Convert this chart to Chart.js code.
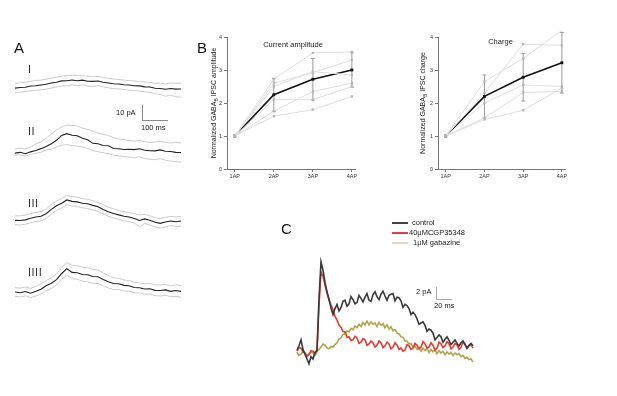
<!DOCTYPE html>
<html>
<head>
<meta charset="utf-8">
<script src="https://cdn.jsdelivr.net/npm/chart.js@4/dist/chart.umd.min.js"></script>
<style>
  body { margin: 0; background: #fff; font-family: "Liberation Sans", Arial, sans-serif; }
  #fig { position: relative; width: 617px; height: 396px; overflow: hidden; }
  canvas, .txt, .bar { position: absolute; }
  .txt { color: #222; white-space: nowrap; line-height: 1; will-change: transform; }
  .letter { font-size: 15px; color: #111; }
  .roman { font-size: 11px; color: #333; letter-spacing: 0.5px; }
  .small { font-size: 7.5px; color: #222; }
  .bar { background: #888; }
</style>
</head>
<body>
<div id="fig">
  <div class="txt letter" style="left:14px;top:40px;">A</div>
  <div class="txt letter" style="left:197px;top:40px;">B</div>
  <div class="txt letter" style="left:281px;top:221px;">C</div>

  <div class="txt roman" style="left:28px;top:64px;">I</div>
  <div class="txt roman" style="left:28px;top:126px;">II</div>
  <div class="txt roman" style="left:28px;top:198px;">III</div>
  <div class="txt roman" style="left:28px;top:267px;">IIII</div>

  <canvas id="trI" width="166" height="45" style="left:15px;top:56px;"></canvas>
  <canvas id="trII" width="166" height="45" style="left:15px;top:121px;"></canvas>
  <canvas id="trIII" width="166" height="45" style="left:15px;top:189px;"></canvas>
  <canvas id="trIIII" width="166" height="45" style="left:15px;top:260px;"></canvas>

  <!-- scale bar A -->
  <div class="bar" style="left:142px;top:105px;width:1px;height:15px;"></div>
  <div class="bar" style="left:142px;top:120px;width:26px;height:1px;"></div>
  <div class="txt small" style="left:116px;top:109px;">10 pA</div>
  <div class="txt small" style="left:141px;top:124px;">100 ms</div>

  <canvas id="ampChart" width="172" height="150" style="left:190px;top:30px;"></canvas>
  <canvas id="chgChart" width="172" height="150" style="left:400px;top:30px;"></canvas>

  <!-- legend C -->
  <div class="bar" style="left:392px;top:222px;width:16px;height:1.5px;background:#444;"></div>
  <div class="bar" style="left:392px;top:232px;width:16px;height:1.5px;background:#e04040;"></div>
  <div class="bar" style="left:392px;top:242px;width:16px;height:1.5px;background:#e6d6c0;"></div>
  <div class="txt small" style="left:412px;top:219px;">control</div>
  <div class="txt small" style="left:409px;top:229px;">40&mu;MCGP35348</div>
  <div class="txt small" style="left:413px;top:239px;">1&mu;M gabazine</div>

  <!-- scale bar C -->
  <div class="bar" style="left:436px;top:287px;width:1px;height:12px;background:#aaa;"></div>
  <div class="bar" style="left:436px;top:299px;width:16px;height:1px;background:#aaa;"></div>
  <div class="txt small" style="left:416px;top:288px;">2 pA</div>
  <div class="txt small" style="left:434px;top:302px;">20 ms</div>

  <canvas id="cChart" width="184" height="120" style="left:293px;top:251px;"></canvas>
</div>

<script>
// ---------- Panel B data ----------
const apLabels = ['1AP', '2AP', '3AP', '4AP'];

const ampCells = [
    [1, 2.72, 3.52, 3.55],
    [1, 2.60, 2.92, 3.30],
    [1, 2.50, 2.95, 2.85],
    [1, 2.10, 2.10, 2.50],
    [1, 1.75, 2.35, 2.60],
    [1, 1.60, 1.80, 2.20]
];
const ampMean = [1, 2.25, 2.72, 3.0];
const ampErr = [0, 0.5, 0.63, 0.52];

const chgCells = [
    [1, 2.65, 3.35, 4.20],
    [1, 2.30, 3.78, 3.75],
    [1, 2.00, 2.55, 2.50],
    [1, 1.55, 2.32, 2.35],
    [1, 1.50, 1.78, 2.45]
];
const chgMean = [1, 2.2, 2.78, 3.22];
const chgErr = [0, 0.65, 0.72, 0.92];

// ---------- Panel A data (pA, sampled every 20 ms) ----------
const timeA = [0, 20, 40, 60, 80, 100, 120, 140, 160, 180, 200, 220, 240, 260, 280, 300, 320,
    340, 360, 380, 400, 420, 440, 460, 480, 500, 520, 540, 560, 580, 600, 620, 640];

const trIMean = [0, 0.4, 0.6, 1.3, 1.5, 2.0, 2.4, 3.2, 3.7, 4.5, 4.6, 5.1, 4.6, 5.0, 4.3, 4.2, 4.4,
    3.7, 3.2, 2.7, 2.6, 2.1, 2.0, 1.5, 1.4, 0.8, 0.7, -0.1, -0.2, -0.7, -0.2, -0.6, -0.5];
const trIUp = [3.0, 3.3, 3.8, 4.2, 4.8, 5.0, 5.6, 6.1, 6.8, 7.4, 7.8, 8.0, 7.9, 7.7, 7.5, 7.0, 7.3,
    6.6, 6.1, 5.6, 5.4, 5.0, 4.7, 4.5, 4.1, 3.9, 3.6, 3.0, 3.1, 2.6, 3.2, 3.0, 3.2];
const trILo = [-2.8, -2.5, -2.2, -1.6, -1.5, -1.0, -0.6, 0.1, 0.6, 1.4, 1.5, 2.0, 1.6, 2.0, 1.3, 1.1, 1.5,
    0.8, 0.2, -0.3, -0.4, -0.9, -1.3, -1.5, -1.8, -2.3, -2.6, -3.4, -3.9, -5.0, -4.4, -5.4, -5.6];

const trIIMean = [0, 0.5, -0.4, 0.8, 1.7, 2.8, 4.2, 5.9, 8.0, 11.0, 12.1, 11.1, 10.8, 9.2, 8.3, 6.1, 5.8,
    4.8, 4.6, 2.9, 2.7, 2.3, 2.4, 2.2, 2.7, 1.8, 1.5, 1.4, 2.0, 1.2, 1.0, 0.5, 0.4];
const trIIUp = [2.5, 3.0, 2.6, 3.8, 5.6, 7.0, 9.4, 11.9, 14.4, 16.3, 17.5, 17.2, 16.9, 15.6, 14.7, 13.8, 12.5,
    11.6, 11.0, 9.7, 8.8, 8.4, 7.8, 7.5, 7.9, 7.2, 6.6, 6.9, 7.5, 6.6, 6.3, 6.9, 6.3];
const trIILo = [-1.3, -1.0, -1.9, -0.9, 0.0, 0.6, 1.9, 2.5, 3.8, 5.0, 5.3, 4.7, 4.4, 3.8, 2.9, 1.6, 0.9,
    0.3, -0.3, -1.3, -1.6, -2.2, -2.5, -2.8, -2.2, -3.4, -3.8, -4.1, -3.4, -4.4, -5.0, -5.3, -5.6];

const trIIIMean = [0.5, 0.4, 0.8, 1.8, 2.6, 3.0, 4.6, 7.3, 9.6, 11.1, 13.2, 12.3, 12.0, 11.1, 10.8, 9.8, 8.9,
    7.3, 5.8, 4.8, 3.9, 3.0, 2.6, 1.7, 0.4, 1.4, 0.5, -0.7, -1.4, -0.5, 0.1, -0.4, 0.1];
const trIIIUp = [3.3, 3.3, 3.7, 4.7, 5.4, 6.0, 7.5, 10.3, 12.5, 14.1, 16.0, 15.2, 14.9, 14.0, 13.6, 12.7, 11.7,
    10.2, 8.6, 7.7, 6.7, 5.9, 5.4, 4.6, 3.9, 4.2, 3.4, 2.2, 1.6, 2.4, 3.0, 2.6, 2.9];
const trIIILo = [-2.2, -2.4, -2.0, -1.0, -0.2, 0.1, 1.7, 4.4, 6.6, 8.2, 10.3, 9.5, 9.1, 8.3, 7.9, 6.9, 6.0,
    4.5, 3.0, 2.0, 1.0, 0.2, -0.3, -1.2, -3.5, -1.4, -2.4, -3.6, -4.3, -3.5, -2.8, -3.3, -3.0];

const trIIIIMean = [0.1, -0.4, 0.4, -0.7, 0.5, 1.8, 4.0, 5.5, 7.8, 11.6, 14.6, 12.3, 12.1, 11.0, 10.8, 9.7, 9.6,
    7.9, 6.5, 5.4, 5.2, 4.2, 4.0, 2.9, 2.7, 2.0, 2.1, 1.1, 1.0, 1.4, 0.5, 1.0, 0.5];
const trIIIIUp = [2.8, 2.5, 3.2, 2.4, 3.5, 5.0, 7.2, 8.9, 11.3, 15.3, 18.4, 16.6, 16.4, 15.5, 15.2, 14.1, 13.8,
    11.9, 10.3, 9.0, 8.6, 7.5, 7.2, 6.1, 5.8, 5.2, 5.4, 4.4, 4.5, 4.8, 3.9, 4.6, 4.1];
const trIIIILo = [-2.6, -3.0, -2.3, -3.4, -2.4, -1.2, 0.9, 2.3, 4.4, 8.0, 10.6, 8.4, 8.0, 6.9, 6.4, 5.5, 5.3,
    3.8, 2.6, 1.6, 1.6, 0.7, 0.6, -0.4, -0.5, -1.2, -1.3, -2.2, -2.4, -2.0, -2.9, -2.7, -3.1];

// ---------- Panel C data (pA, sampled every 2.5 ms) ----------
const timeC = [0, 2.5, 5, 7.5, 10, 12.5, 15, 17.5, 20, 22.5, 25, 27.5, 30, 32.5, 35, 37.5, 40, 42.5,
    45, 47.5, 50, 52.5, 55, 57.5, 60, 62.5, 65, 67.5, 70, 72.5, 75, 77.5, 80, 82.5, 85, 87.5, 90,
    92.5, 95, 97.5, 100, 102.5, 105, 107.5, 110, 112.5, 115, 117.5, 120, 122.5, 125, 127.5, 130,
    132.5, 135, 137.5, 140, 142.5, 145, 147.5, 150, 152.5, 155, 157.5, 160, 162.5, 165, 167.5, 170,
    172.5, 175, 177.5, 180, 182.5, 185, 187.5, 190, 192.5, 195, 197.5, 200, 202.5, 205, 207.5, 210,
    212.5, 215, 217.5, 220];
const controlTrace = [0.5, 1.2, 2.2, 0.6, -0.2, -1.0, -1.8, -0.6, -1.0, 0.1,
    0.4, 9.0, 15.2, 13.8, 11.8, 10.2, 9.0, 7.5, 6.4, 7.4,
    8.1, 7.0, 7.6, 8.6, 8.8, 7.8, 8.2, 9.4, 8.9, 8.2,
    8.4, 9.6, 9.1, 8.5, 9.3, 9.9, 8.8, 8.6, 9.7, 10.2,
    9.4, 8.9, 9.8, 10.3, 9.5, 8.8, 9.6, 9.8, 9.9, 8.7,
    9.3, 9.2, 8.7, 7.6, 8.1, 7.9, 7.4, 6.4, 6.8, 6.4,
    5.7, 4.8, 5.0, 5.2, 4.6, 3.6, 4.0, 3.8, 3.3, 2.2,
    2.6, 3.0, 2.7, 1.8, 2.3, 2.7, 2.1, 1.4, 1.8, 2.2,
    1.6, 1.2, 1.7, 2.0, 1.4, 0.8, 1.3, 1.6, 1.2];
const cgpTrace = [0.3, 0.9, 0.8, 0.2, 0, -0.5, -0.2, 0.4, 0.3, -0.1,
    0.5, 8.0, 13.5, 12.8, 11.3, 10.0, 8.8, 8.0, 7.2, 6.1,
    5.5, 4.6, 4.3, 3.6, 3.5, 2.6, 2.7, 2.1, 2.2, 2.8,
    2.5, 1.6, 1.8, 2.4, 2.2, 1.3, 1.5, 2.0, 1.7, 1.0,
    1.3, 2.0, 1.7, 0.9, 1.2, 1.8, 1.5, 0.7, 1.0, 1.7,
    1.3, 0.6, 0.8, 0.3, 0.5, 1.4, 1.2, 0.6, 0.8, 1.6,
    1.3, 0.7, 1.0, 1.9, 1.5, 0.8, 1.0, 1.7, 1.3, 0.5,
    0.8, 1.8, 1.5, 0.9, 1.2, 1.9, 1.5, 0.7, 1.0, 1.6,
    1.3, 0.6, 1.0, 1.9, 1.5, 0.8, 1.2, 1.4, 0.8];
const gabazineTrace = [0.2, -0.4, -0.2, 0.3, 0, -0.6, -0.3, 0.2, 0, -0.4,
    0.2, 0.6, 1.0, 1.5, 1.3, 0.9, 0.7, 1.1, 1.0, 1.4,
    1.7, 2.3, 2.5, 3.1, 3.2, 3.7, 3.5, 4.1, 3.9, 4.5,
    4.2, 4.8, 4.4, 5.1, 4.7, 5.3, 4.7, 5.2, 4.8, 5.0,
    4.4, 5.1, 4.6, 4.9, 4.2, 4.7, 4.0, 4.4, 3.7, 3.9,
    3.3, 3.2, 2.7, 2.6, 2.0, 2.0, 1.5, 1.6, 1.0, 1.1,
    0.6, 0.9, 0.3, 0.8, 0.4, 0.7, 0.1, 0.6, 0.2, 0.5,
    -0.1, 0.4, 0, 0.3, -0.3, 0.2, -0.2, 0.1, -0.4, 0,
    -0.3, -0.1, -0.6, -0.4, -0.9, -0.7, -1.1, -1.0, -1.5];

const FONT = '"Liberation Sans", Arial, sans-serif';
Chart.defaults.font.family = FONT;
Chart.defaults.animation = false;

function xy(xs, ys) {
    return ys.map((v, i) => ({ x: xs[i], y: v }));
}

// error bars + inner title + y title with subscript
const panelBPlugin = {
    id: 'panelB',
    beforeDatasetsDraw(chart, args, opts) {
        const ctx = chart.ctx;
        const xs = chart.scales.x, ys = chart.scales.y;
        ctx.save();
        ctx.strokeStyle = '#9a9a9a';
        ctx.lineWidth = 1;
        opts.mean.forEach((m, i) => {
            if (!opts.err[i]) return;
            const x = xs.getPixelForValue(i + 1);
            const y1 = ys.getPixelForValue(m + opts.err[i]);
            const y2 = ys.getPixelForValue(m - opts.err[i]);
            ctx.beginPath();
            ctx.moveTo(x, y1); ctx.lineTo(x, y2);
            ctx.moveTo(x - 2, y1); ctx.lineTo(x + 2, y1);
            ctx.moveTo(x - 2, y2); ctx.lineTo(x + 2, y2);
            ctx.stroke();
        });
        ctx.restore();
    },
    afterDraw(chart, args, opts) {
        const ctx = chart.ctx;
        const a = chart.chartArea;
        ctx.save();
        ctx.fillStyle = '#222';
        ctx.font = '7.5px ' + FONT;
        ctx.textAlign = 'center';
        ctx.textBaseline = 'middle';
        ctx.fillText(opts.title, (a.left + a.right) / 2 + opts.titleDx, a.top + opts.titleDy);

        // rotated y title: "Normalized GABA" + sub "B" + rest
        ctx.translate(opts.yTitleX, (a.top + a.bottom) / 2);
        ctx.rotate(-Math.PI / 2);
        const p1 = 'Normalized GABA', p3 = ' IPSC ' + opts.yWord;
        ctx.font = '7px ' + FONT;
        const w1 = ctx.measureText(p1).width, w3 = ctx.measureText(p3).width;
        ctx.font = '5px ' + FONT;
        const w2 = ctx.measureText('B').width;
        let x = -(w1 + w2 + w3) / 2;
        ctx.textAlign = 'left';
        ctx.font = '7px ' + FONT;
        ctx.fillText(p1, x, 0);
        x += w1;
        ctx.font = '5px ' + FONT;
        ctx.fillText('B', x, 2.5);
        x += w2;
        ctx.font = '7px ' + FONT;
        ctx.fillText(p3, x, 0);
        ctx.restore();
    }
};

function makePanelB(id, cells, mean, err, opts) {
    const datasets = cells.map(c => ({
        data: xy([1, 2, 3, 4], c),
        borderColor: '#dedede',
        borderWidth: 1,
        pointStyle: 'rect',
        pointRadius: 1.6,
        pointBackgroundColor: '#b4b4b4',
        pointBorderColor: '#b4b4b4',
        pointBorderWidth: 0,
        clip: false
    }));
    datasets.push({
        data: xy([1, 2, 3, 4], mean),
        borderColor: '#111',
        borderWidth: 1.6,
        pointStyle: 'rect',
        pointRadius: 2,
        pointBackgroundColor: '#111',
        pointBorderColor: '#111',
        pointBorderWidth: 0,
        clip: false
    });

    new Chart(document.getElementById(id), {
        type: 'line',
        data: { datasets },
        plugins: [panelBPlugin],
        options: {
            responsive: false,
            layout: { padding: { top: 7, right: 7, left: 0, bottom: 0 } },
            plugins: {
                legend: { display: false },
                tooltip: { enabled: false },
                panelB: Object.assign({ mean, err }, opts)
            },
            scales: {
                x: {
                    type: 'linear',
                    min: 0.8,
                    max: 4.08,
                    afterBuildTicks: s => { s.ticks = [1, 2, 3, 4].map(v => ({ value: v })); },
                    afterFit: s => { s.height = 11; },
                    ticks: {
                        callback: v => apLabels[v - 1],
                        font: { size: 5.5 },
                        color: '#333',
                        padding: 1,
                        maxRotation: 0
                    },
                    grid: { drawOnChartArea: false, tickLength: 3, color: '#777' },
                    border: { color: '#777' }
                },
                y: {
                    min: 0,
                    max: 4,
                    afterFit: s => { s.width = opts.yWidth; },
                    ticks: { stepSize: 1, font: { size: 5.5 }, color: '#333', padding: 2 },
                    grid: { drawOnChartArea: false, tickLength: 3, color: '#777' },
                    border: { color: '#777' }
                }
            }
        }
    });
}

makePanelB('ampChart', ampCells, ampMean, ampErr,
    { title: 'Current amplitude', titleDx: 2, titleDy: 8, yWord: 'amplitude', yTitleX: 24, yWidth: 37 });
makePanelB('chgChart', chgCells, chgMean, chgErr,
    { title: 'Charge', titleDx: -1, titleDy: 5, yWord: 'charge', yTitleX: 23, yWidth: 38 });

// ---------- Panel A traces ----------
function makeTrace(id, mean, up, lo) {
    const grey = { borderColor: '#cbcbcb', borderWidth: 1, pointRadius: 0 };
    new Chart(document.getElementById(id), {
        type: 'line',
        data: {
            datasets: [
                Object.assign({ data: xy(timeA, up) }, grey),
                Object.assign({ data: xy(timeA, lo) }, grey),
                { data: xy(timeA, mean), borderColor: '#222', borderWidth: 1.1, pointRadius: 0 }
            ]
        },
        options: {
            responsive: false,
            layout: { padding: 0 },
            plugins: { legend: { display: false }, tooltip: { enabled: false } },
            scales: {
                x: { type: 'linear', display: false, min: 0, max: 640 },
                y: { display: false, min: -8, max: 20 }
            }
        }
    });
}

makeTrace('trI', trIMean, trIUp, trILo);
makeTrace('trII', trIIMean, trIIUp, trIILo);
makeTrace('trIII', trIIIMean, trIIIUp, trIIILo);
makeTrace('trIIII', trIIIIMean, trIIIIUp, trIIIILo);

// ---------- Panel C ----------
new Chart(document.getElementById('cChart'), {
    type: 'line',
    data: {
        datasets: [
            { label: 'control', data: xy(timeC, controlTrace), borderColor: '#3a3a3a', borderWidth: 1.6, pointRadius: 0 },
            { label: '40\u03bcMCGP35348', data: xy(timeC, cgpTrace), borderColor: '#e53a32', borderWidth: 1.6, pointRadius: 0 },
            { label: '1\u03bcM gabazine', data: xy(timeC, gabazineTrace), borderColor: 'rgba(160,150,45,0.85)', borderWidth: 1.6, pointRadius: 0 }
        ]
    },
    options: {
        responsive: false,
        layout: { padding: 0 },
        plugins: { legend: { display: false }, tooltip: { enabled: false } },
        scales: {
            x: { type: 'linear', display: false, min: -5, max: 225 },
            y: { display: false, min: -3, max: 17 }
        }
    }
});
</script>
</body>
</html>
